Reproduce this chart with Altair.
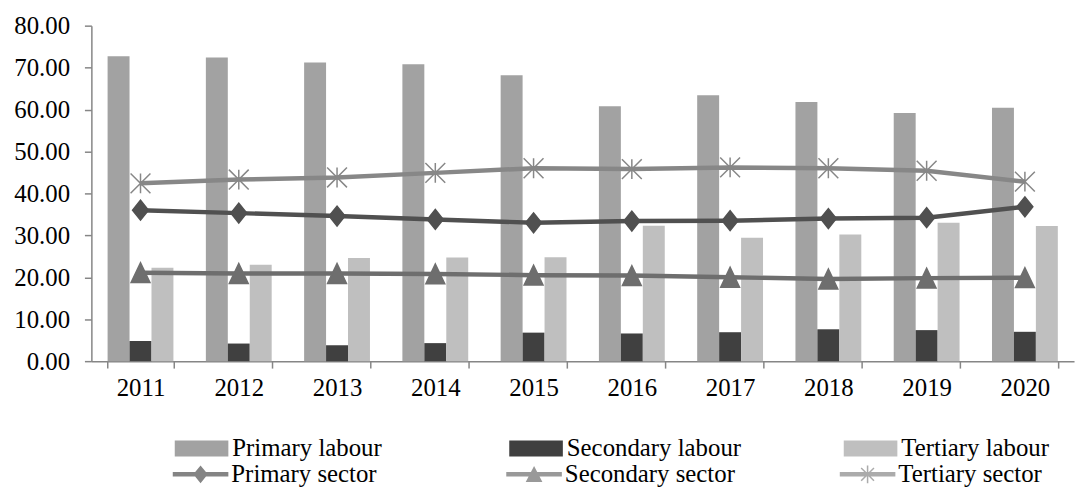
import altair as alt
import pandas as pd

years = ["2011", "2012", "2013", "2014", "2015", "2016", "2017", "2018", "2019", "2020"]

primary_labour = [72.7, 72.4, 71.2, 70.8, 68.2, 60.8, 63.4, 61.8, 59.2, 60.4]
secondary_labour = [4.8, 4.2, 3.8, 4.3, 6.8, 6.6, 6.9, 7.6, 7.4, 7.0]
tertiary_labour = [22.3, 23.0, 24.6, 24.7, 24.8, 32.3, 29.4, 30.2, 33.0, 32.2]

primary_sector = [36.0, 35.3, 34.6, 33.8, 33.0, 33.4, 33.5, 34.0, 34.2, 36.8]
secondary_sector = [21.1, 20.9, 20.9, 20.8, 20.5, 20.4, 20.0, 19.6, 19.8, 19.9]
tertiary_sector = [42.4, 43.3, 43.8, 44.9, 46.0, 45.8, 46.2, 46.0, 45.4, 42.8]

labour_names = ["Primary labour", "Secondary labour", "Tertiary labour"]
sector_names = ["Primary sector", "Secondary sector", "Tertiary sector"]
y_ticks = [0, 10, 20, 30, 40, 50, 60, 70, 80]

labour_colors = ["#a2a2a2", "#404040", "#bfbfbf"]
sector_colors = ["#505050", "#6e6e6e", "#878787"]

bars_df = pd.DataFrame({
    "year": years * 3,
    "series": [n for n in labour_names for _ in years],
    "value": primary_labour + secondary_labour + tertiary_labour,
})
lines_df = pd.DataFrame({
    "year": years * 3,
    "sector": [n for n in sector_names for _ in years],
    "value": primary_sector + secondary_sector + tertiary_sector,
})
lines_df["key"] = lines_df["sector"]

FONT = "Liberation Serif"
AXIS_COLOR = "#868686"

# marker shapes
DIAMOND = "M-0.8,0L0,-1L0.8,0L0,1Z"
TRIANGLE = "M-0.95,1L0,-1L0.95,1Z"
STAR = "M-1,-1L1,1M-1,1L1,-1M0,-1L0,1"

# legend symbols (line + marker as filled shapes)
LEG_DIAMOND = "M-1,-0.08H1V0.08H-1Z M-0.26,0L0,-0.32L0.26,0L0,0.32Z"
LEG_TRIANGLE = "M-1,-0.08H1V0.08H-1Z M-0.3,0.28L0,-0.3L0.3,0.28Z"
LEG_STAR = ("M-1,-0.08H1V0.08H-1Z "
            "M-0.027,-0.32H0.027V0.32H-0.027Z "
            "M-0.211,-0.249L0.249,0.211L0.211,0.249L-0.249,-0.211Z "
            "M-0.249,0.211L0.211,-0.249L0.249,-0.211L-0.211,0.249Z")
BAR_SWATCH = "M-1,-0.3H1V0.3H-1Z"

x_enc = alt.X(
    "year:O", title=None,
    scale=alt.Scale(paddingInner=0.33, paddingOuter=0.165),
    axis=alt.Axis(labelAngle=0, tickBand="extent", tickSize=7, labelPadding=8,
                  domainColor=AXIS_COLOR, tickColor=AXIS_COLOR, domainWidth=1.5,
                  tickWidth=1.5, labelFont=FONT, labelFontSize=25, labelColor="black"),
)
y_enc = alt.Y(
    "value:Q", title=None,
    scale=alt.Scale(domain=[0, 80], nice=False),
    axis=alt.Axis(values=y_ticks, format=".2f", grid=False, tickSize=7, labelPadding=15,
                  domainColor=AXIS_COLOR, tickColor=AXIS_COLOR, domainWidth=1.5,
                  tickWidth=1.5, labelFont=FONT, labelFontSize=25, labelColor="black"),
)

bar_legend = alt.Legend(
    title=None, orient="none", legendX=84, legendY=399, direction="horizontal",
    columns=3, gridAlign="all", columnPadding=103, symbolType=BAR_SWATCH,
    symbolSize=2916, symbolStrokeWidth=0, labelOffset=4, padding=0,
    labelFont=FONT, labelFontSize=25, labelColor="black", labelLimit=400,
)
line_legend = alt.Legend(
    title=None, orient="none", legendX=82, legendY=424, direction="horizontal",
    columns=3, gridAlign="all", columnPadding=105,
    symbolSize=3136, symbolStrokeWidth=0, labelOffset=3, padding=0,
    labelFont=FONT, labelFontSize=25, labelColor="black", labelLimit=400,
)

bars = alt.Chart(bars_df).mark_bar().encode(
    x=x_enc,
    xOffset=alt.XOffset("series:N", sort=labour_names,
                        scale=alt.Scale(paddingInner=0, paddingOuter=0)),
    y=y_enc,
    color=alt.Color("series:N", sort=labour_names,
                    scale=alt.Scale(domain=labour_names, range=labour_colors),
                    legend=bar_legend),
)

lines = alt.Chart(lines_df).mark_line(strokeWidth=4.5).encode(
    x=x_enc, y=y_enc,
    stroke=alt.Stroke("sector:N", scale=alt.Scale(domain=sector_names, range=sector_colors),
                      legend=None),
)

points = alt.Chart(lines_df).mark_point(filled=True, size=400, strokeWidth=1.5, opacity=1).encode(
    x=x_enc, y=y_enc,
    fill=alt.Fill("sector:N", scale=alt.Scale(domain=sector_names, range=sector_colors),
                  legend=None),
    stroke=alt.Stroke("sector:N", legend=None),
    shape=alt.Shape("sector:N", scale=alt.Scale(domain=sector_names,
                                                range=[DIAMOND, TRIANGLE, STAR]),
                    legend=None),
)

legend_layer = alt.Chart(lines_df).transform_filter("datum.value < -1000").mark_point(
    filled=True).encode(
    x=x_enc, y=y_enc,
    color=alt.Color("key:N", scale=alt.Scale(domain=sector_names, range=sector_colors),
                    legend=line_legend),
    shape=alt.Shape("key:N", scale=alt.Scale(domain=sector_names,
                                             range=[LEG_DIAMOND, LEG_TRIANGLE, LEG_STAR]),
                    legend=line_legend),
)

chart = alt.layer(bars, lines, points, legend_layer).resolve_scale(
    color="independent", shape="independent"
).properties(
    width=990, height=338,
    autosize=alt.AutoSizeParams(type="none"),
    padding={"left": 84, "top": 16, "right": 5, "bottom": 126},
).configure_view(stroke=None).configure_axis(
    labelFont=FONT, labelFontSize=25, labelColor="black"
).configure_legend(
    labelFont=FONT, labelFontSize=25, labelColor="black"
)

chart.save("out.html", embed_options={"renderer": "svg", "actions": False})
